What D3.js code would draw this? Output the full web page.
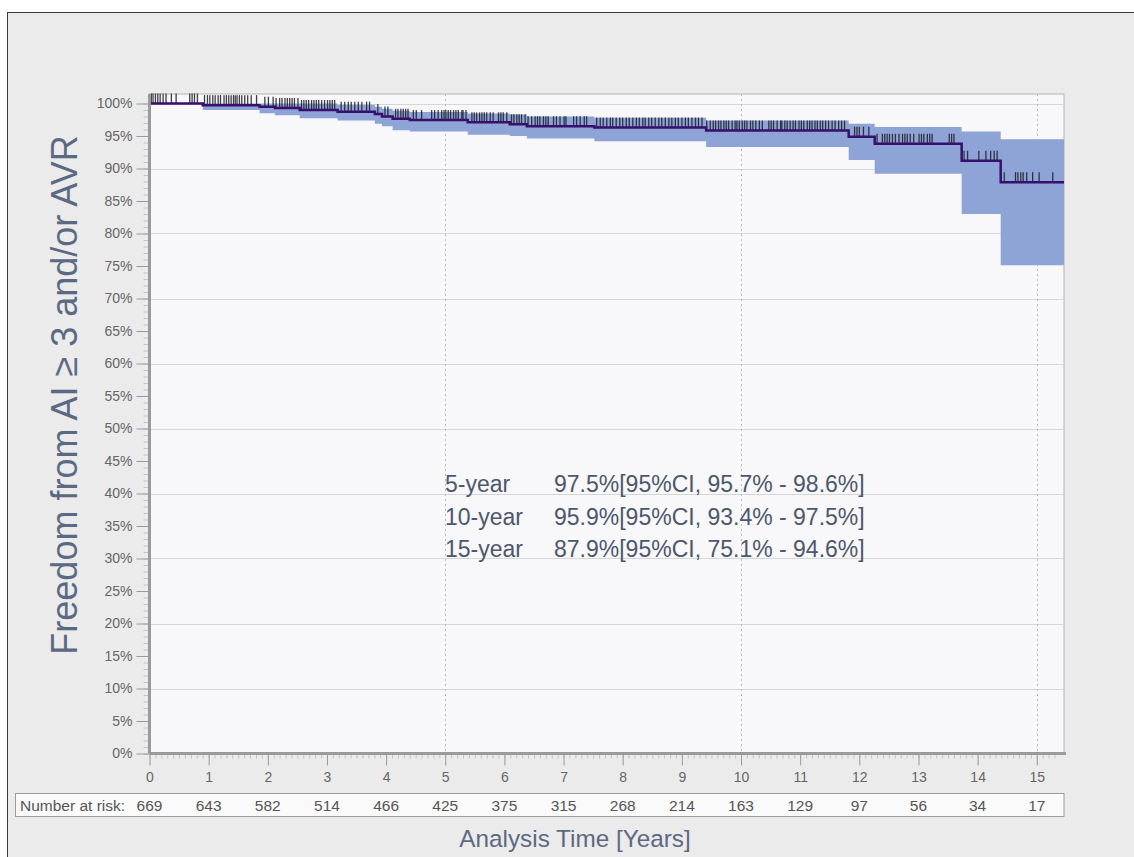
<!DOCTYPE html>
<html>
<head>
<meta charset="utf-8">
<script src="https://cdn.jsdelivr.net/npm/d3@7"></script>
<style>
    body { margin: 0; background: #fff; }
    svg { display: block; font-family: "Liberation Sans", Arial, sans-serif; }
</style>
</head>
<body>
<div id="chart"></div>
<script>
/* Kaplan-Meier estimate (percent) and its 95% CI, one value per step. */
const stepTimes = [0, 0.90, 1.86, 2.12, 2.54, 3.18, 3.81, 3.93, 4.11, 4.40, 5.38, 6.09, 6.38, 7.52, 9.41, 11.82, 12.26, 13.73, 14.39];
const survival = [100, 99.75, 99.5, 99.3, 99.0, 98.75, 98.4, 98.0, 97.65, 97.45, 97.1, 96.8, 96.5, 96.3, 95.85, 94.9, 93.8, 91.2, 87.9];
const lowerCI = [100, 99.0, 98.5, 98.2, 97.75, 97.4, 96.9, 96.5, 95.9, 95.7, 95.2, 95.0, 94.6, 94.2, 93.3, 91.3, 89.2, 83.0, 75.1];
const upperCI = [100, 100, 100, 100, 100, 99.8, 99.5, 99.2, 98.9, 98.7, 98.45, 98.3, 98.0, 97.8, 97.4, 96.9, 96.4, 95.7, 94.5];

/* Censored observations (years). */
const censorTimes = [
    0.03, 0.06, 0.10, 0.14, 0.18, 0.23, 0.28, 0.37, 0.45, 0.68, 0.72, 0.76, 0.81,
    0.93, 0.98, 1.02, 1.07, 1.11, 1.16, 1.20, 1.26, 1.30, 1.34, 1.38, 1.42, 1.45, 1.48, 1.52, 1.56, 1.61, 1.66, 1.72, 1.81,
    1.95, 2.01, 2.09, 2.14, 2.20, 2.24, 2.29, 2.33, 2.37, 2.41, 2.45, 2.51, 2.57, 2.61, 2.65, 2.69, 2.74, 2.78, 2.82, 2.86, 2.91, 2.96,
    3.01, 3.05, 3.09, 3.13, 3.24, 3.30, 3.36, 3.41, 3.47, 3.53, 3.59, 3.67, 3.72, 3.86,
    3.98, 4.03, 4.16, 4.20, 4.25, 4.29, 4.33, 4.37, 4.46, 4.51, 4.60, 4.77, 4.82, 4.88,
    4.94, 4.98, 5.01, 5.05, 5.09, 5.14, 5.18, 5.22, 5.28, 5.30, 5.35,
    5.45, 5.49, 5.53, 5.58, 5.62, 5.66, 5.70, 5.76, 5.81, 5.90, 5.94, 5.98, 6.04,
    6.12, 6.16, 6.21, 6.25, 6.29, 6.35,
    6.40, 6.46, 6.52, 6.56, 6.60, 6.66, 6.70, 6.74, 6.83, 6.88, 6.94, 7.01, 7.04, 7.17, 7.22, 7.28, 7.35, 7.39,
    7.56, 7.62, 7.67, 7.73, 7.79, 7.83, 7.89, 7.95, 8.00, 8.06, 8.11, 8.17, 8.23, 8.28, 8.34, 8.38, 8.44, 8.49,
    8.55, 8.61, 8.66, 8.72, 8.78, 8.83, 8.89, 8.94, 9.00, 9.06, 9.11, 9.17, 9.23, 9.28, 9.34,
    9.42, 9.48, 9.53, 9.57, 9.62, 9.66, 9.71, 9.75, 9.79, 9.85, 9.90, 9.93, 9.97, 10.02, 10.06, 10.10, 10.16,
    10.20, 10.25, 10.31, 10.36, 10.47, 10.51, 10.55, 10.61, 10.67, 10.69, 10.74, 10.78, 10.83, 10.88, 10.92,
    10.98, 11.02, 11.06, 11.12, 11.16, 11.20, 11.25, 11.29, 11.34, 11.38, 11.43, 11.48, 11.54, 11.59, 11.65, 11.70, 11.75,
    11.92, 11.96, 12.00, 12.07, 12.16,
    12.30, 12.39, 12.43, 12.47, 12.51, 12.56, 12.61, 12.67, 12.73, 12.77, 12.81, 12.86, 12.92, 13.01, 13.05,
    13.09, 13.15, 13.19, 13.23, 13.52, 13.56, 13.60,
    13.77, 13.83, 14.02, 14.14, 14.22, 14.28, 14.33,
    14.45, 14.64, 14.68, 14.73, 14.77, 14.83, 14.93, 15.04, 15.27
];

/* Axis ticks and number at risk. */
const xTicks = [0, 1, 2, 3, 4, 5, 6, 7, 8, 9, 10, 11, 12, 13, 14, 15];
const yTicks = [0, 5, 10, 15, 20, 25, 30, 35, 40, 45, 50, 55, 60, 65, 70, 75, 80, 85, 90, 95, 100];
const yGrid = [10, 20, 30, 40, 50, 60, 70, 80, 90, 100];
const xGrid = [5, 10, 15];
const atRisk = [669, 643, 582, 514, 466, 425, 375, 315, 268, 214, 163, 129, 97, 56, 34, 17];

/* Milestone estimates printed in the plot. */
const milestoneLabels = ['5-year', '10-year', '15-year'];
const milestoneTexts = ['97.5%[95%CI, 95.7% - 98.6%]', '95.9%[95%CI, 93.4% - 97.5%]', '87.9%[95%CI, 75.1% - 94.6%]'];

const W = 1134, H = 857;
const xMax = 15.46;
const plot = {left: 149.5, right: 1064, top: 94, bottom: 753.5};
const textCol = '#5b6a82';
const tickCol = '#666';

const svg = d3.select('#chart').append('svg')
    .attr('width', W)
    .attr('height', H);

// Outer frame.
svg.append('rect')
    .attr('x', 7.5).attr('y', 12.5)
    .attr('width', W).attr('height', H)
    .attr('fill', '#ebebeb')
    .attr('stroke', '#3a3a3a');

const x = d3.scaleLinear().domain([0, xMax]).range([plot.left, plot.right]);
const y = d3.scaleLinear().domain([0, 100]).range([plot.bottom, 103.5]);

// Plot background.
svg.append('rect')
    .attr('x', plot.left).attr('y', plot.top)
    .attr('width', plot.right - plot.left).attr('height', plot.bottom - plot.top)
    .attr('fill', '#f8f7f9')
    .attr('stroke', '#b5b5b5');

// Grid lines.
svg.append('g').selectAll('line')
    .data(yGrid)
    .enter()
    .append('line')
    .attr('x1', plot.left).attr('x2', plot.right)
    .attr('y1', d => Math.round(y(d)) + 0.5).attr('y2', d => Math.round(y(d)) + 0.5)
    .attr('stroke', '#d6d6d8');

svg.append('g').selectAll('line')
    .data(xGrid)
    .enter()
    .append('line')
    .attr('x1', d => Math.round(x(d)) + 0.5).attr('x2', d => Math.round(x(d)) + 0.5)
    .attr('y1', plot.top).attr('y2', plot.bottom)
    .attr('stroke', '#b9b9bd')
    .attr('stroke-dasharray', '2,3');

// Step data, extended to the right edge.
const steps = stepTimes.map((t, i) => ({t: t, s: survival[i], lo: lowerCI[i], hi: upperCI[i]}));
steps.push(Object.assign({}, steps[steps.length - 1], {t: xMax}));

// Confidence band.
svg.append('path')
    .datum(steps)
    .attr('fill', '#8fa4d6')
    .attr('d', d3.area()
        .curve(d3.curveStepAfter)
        .x(d => x(d.t))
        .y0(d => y(d.lo))
        .y1(d => y(d.hi)));

// Censor marks sit on the curve.
function survivalAt(t) {
    return survival[d3.bisectRight(stepTimes, t) - 1];
}

svg.append('g').selectAll('line')
    .data(censorTimes)
    .enter()
    .append('line')
    .attr('x1', d => x(d)).attr('x2', d => x(d))
    .attr('y1', d => y(survivalAt(d)))
    .attr('y2', d => y(survivalAt(d)) - 10)
    .attr('stroke', '#1e1e28')
    .attr('stroke-opacity', 0.85)
    .attr('stroke-width', 1.3);

// Survival curve.
svg.append('path')
    .datum(steps)
    .attr('fill', 'none')
    .attr('stroke', '#380f6e')
    .attr('stroke-width', 2.5)
    .attr('d', d3.line()
        .curve(d3.curveStepAfter)
        .x(d => x(d.t))
        .y(d => y(d.s)));

// Y axis: minor then major ticks.
svg.append('g')
    .attr('transform', 'translate(' + plot.left + ',0)')
    .call(d3.axisLeft(y).tickValues(d3.range(0, 101, 1)).tickSize(6).tickFormat(''))
    .call(g => g.select('.domain').remove())
    .call(g => g.selectAll('line').attr('stroke', '#c4c4c4'));

const yAxis = svg.append('g')
    .attr('transform', 'translate(' + plot.left + ',0)')
    .call(d3.axisLeft(y).tickValues(yTicks).tickSize(13).tickPadding(4).tickFormat(d => d + '%'));
yAxis.select('.domain').attr('d', 'M0,' + plot.top + 'V' + plot.bottom).attr('stroke', '#9a9a9a').attr('stroke-width', 3);
yAxis.selectAll('line').attr('stroke', '#9a9a9a');
yAxis.selectAll('text').attr('fill', tickCol).style('font-size', '14px').style('font-family', '"Liberation Sans", Arial, sans-serif');

// X axis: minor then major ticks.
svg.append('g')
    .attr('transform', 'translate(0,' + plot.bottom + ')')
    .call(d3.axisBottom(x).tickValues(d3.range(0, 154).map(i => i / 10)).tickSize(5).tickFormat(''))
    .call(g => g.select('.domain').remove())
    .call(g => g.selectAll('line').attr('stroke', '#c4c4c4'));

const xAxis = svg.append('g')
    .attr('transform', 'translate(0,' + plot.bottom + ')')
    .call(d3.axisBottom(x).tickValues(xTicks).tickSize(12).tickPadding(7));
xAxis.select('.domain').attr('d', 'M' + plot.left + ',0H' + (plot.right + 2)).attr('stroke', '#9a9a9a').attr('stroke-width', 3);
xAxis.selectAll('line').attr('stroke', '#9a9a9a');
xAxis.selectAll('text').attr('fill', tickCol).style('font-size', '14px').style('font-family', '"Liberation Sans", Arial, sans-serif');

// Number at risk table.
svg.append('rect')
    .attr('x', 15.5).attr('y', 793.5)
    .attr('width', plot.right - 15.5).attr('height', 23)
    .attr('fill', '#fafafa')
    .attr('stroke', '#9c9c9c');

svg.append('text')
    .attr('x', 20).attr('y', 811)
    .attr('fill', '#555')
    .style('font-size', '15.5px')
    .text('Number at risk:');

svg.append('g').selectAll('text')
    .data(atRisk)
    .enter()
    .append('text')
    .attr('x', (d, i) => x(xTicks[i]))
    .attr('y', 811)
    .attr('text-anchor', 'middle')
    .attr('fill', '#555')
    .style('font-size', '15.5px')
    .text(d => d);

// Axis titles.
svg.append('text')
    .attr('x', 575).attr('y', 847)
    .attr('text-anchor', 'middle')
    .attr('fill', textCol)
    .style('font-size', '24.3px')
    .text('Analysis Time [Years]');

svg.append('text')
    .attr('transform', 'translate(77,395) rotate(-90)')
    .attr('text-anchor', 'middle')
    .attr('fill', textCol)
    .style('font-size', '36px')
    .text('Freedom from AI \u2265 3 and/or AVR');

// Milestone estimates.
const notes = svg.append('g');
milestoneLabels.forEach(function (label, i) {
    notes.append('text')
        .attr('x', 445).attr('y', 492 + i * 32.5)
        .attr('fill', '#4c586c')
        .style('font-size', '23px')
        .text(label);
    notes.append('text')
        .attr('x', 554).attr('y', 492 + i * 32.5)
        .attr('fill', '#4c586c')
        .style('font-size', '23px')
        .text(milestoneTexts[i]);
});
</script>
</body>
</html>
